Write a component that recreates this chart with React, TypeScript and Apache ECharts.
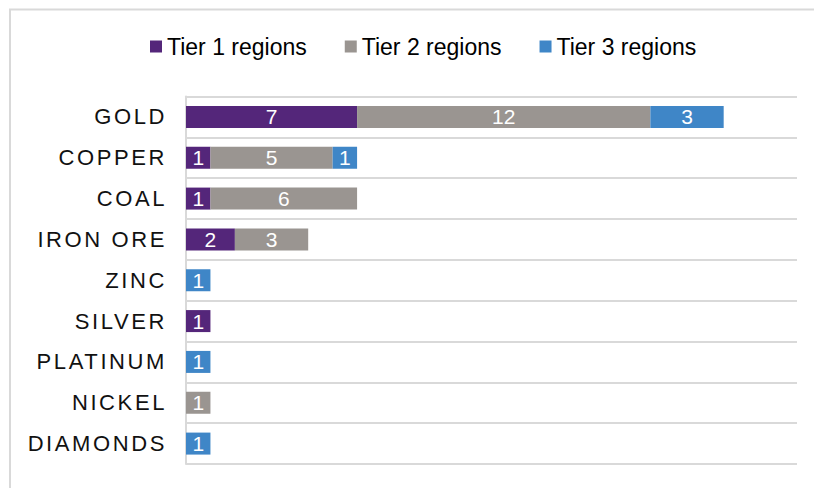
import React, { useEffect, useRef } from "react";
import * as echarts from "echarts";

const categories = ["GOLD", "COPPER", "COAL", "IRON ORE", "ZINC", "SILVER", "PLATINUM", "NICKEL", "DIAMONDS"];
const tier1 = [7, 1, 1, 2, null, 1, null, null, null];
const tier2 = [12, 5, 6, 3, null, null, null, 1, null];
const tier3 = [3, 1, null, null, 1, null, 1, null, 1];
const seriesNames = ["Tier 1 regions", "Tier 2 regions", "Tier 3 regions"];
const colors = ["#54267a", "#9a9591", "#3f86c7"];

export default function App() {
  const ref = useRef<HTMLDivElement>(null);
  useEffect(() => {
    if (!ref.current) return;
    const chart = echarts.init(ref.current, null, { renderer: "svg" });
    const data = [tier1, tier2, tier3];
    chart.setOption({
      animation: false,
      graphic: [
        {
          type: "rect",
          shape: { x: 10, y: 9.5, width: 900, height: 600 },
          style: { fill: "none", stroke: "#d9d9d9", lineWidth: 2 },
          silent: true,
        },
      ],
      legend: {
        top: 30,
        left: 145,
        itemWidth: 12,
        itemHeight: 12,
        itemGap: 38,
        icon: "rect",
        textStyle: { fontSize: 23, color: "#000", fontFamily: "'Liberation Sans', Arial, sans-serif" },
        data: seriesNames,
      },
      grid: { left: 186, right: 17, top: 96.5, bottom: 24, containLabel: false },
      xAxis: {
        type: "value",
        min: 0,
        max: 25,
        show: false,
        splitLine: { show: false },
      },
      yAxis: {
        type: "category",
        inverse: true,
        data: categories,
        axisLine: { show: true, lineStyle: { color: "#d9d9d9", width: 2 } },
        axisTick: { show: false },
        splitLine: { show: true, lineStyle: { color: "#d9d9d9", width: 2 } },
        axisLabel: {
          margin: 19,
          fontSize: 22,
          color: "#111",
          fontFamily: "'Liberation Sans', axislbl, sans-serif",
        },
      },
      series: seriesNames.map((name, i) => ({
        name,
        type: "bar",
        stack: "total",
        barWidth: 22,
        data: data[i],
        itemStyle: { color: colors[i] },
        label: {
          show: true,
          position: "inside",
          color: "#fff",
          fontSize: 21,
          fontFamily: "'Liberation Sans', Arial, sans-serif",
        },
      })),
    });
    return () => chart.dispose();
  }, []);
  return (
    <>
      <style>{`text[style*="axislbl"]{letter-spacing:2.6px;}`}</style>
      <div ref={ref} style={{ position: "absolute", left: 0, top: 0, width: 814, height: 488 }} />
    </>
  );
}
